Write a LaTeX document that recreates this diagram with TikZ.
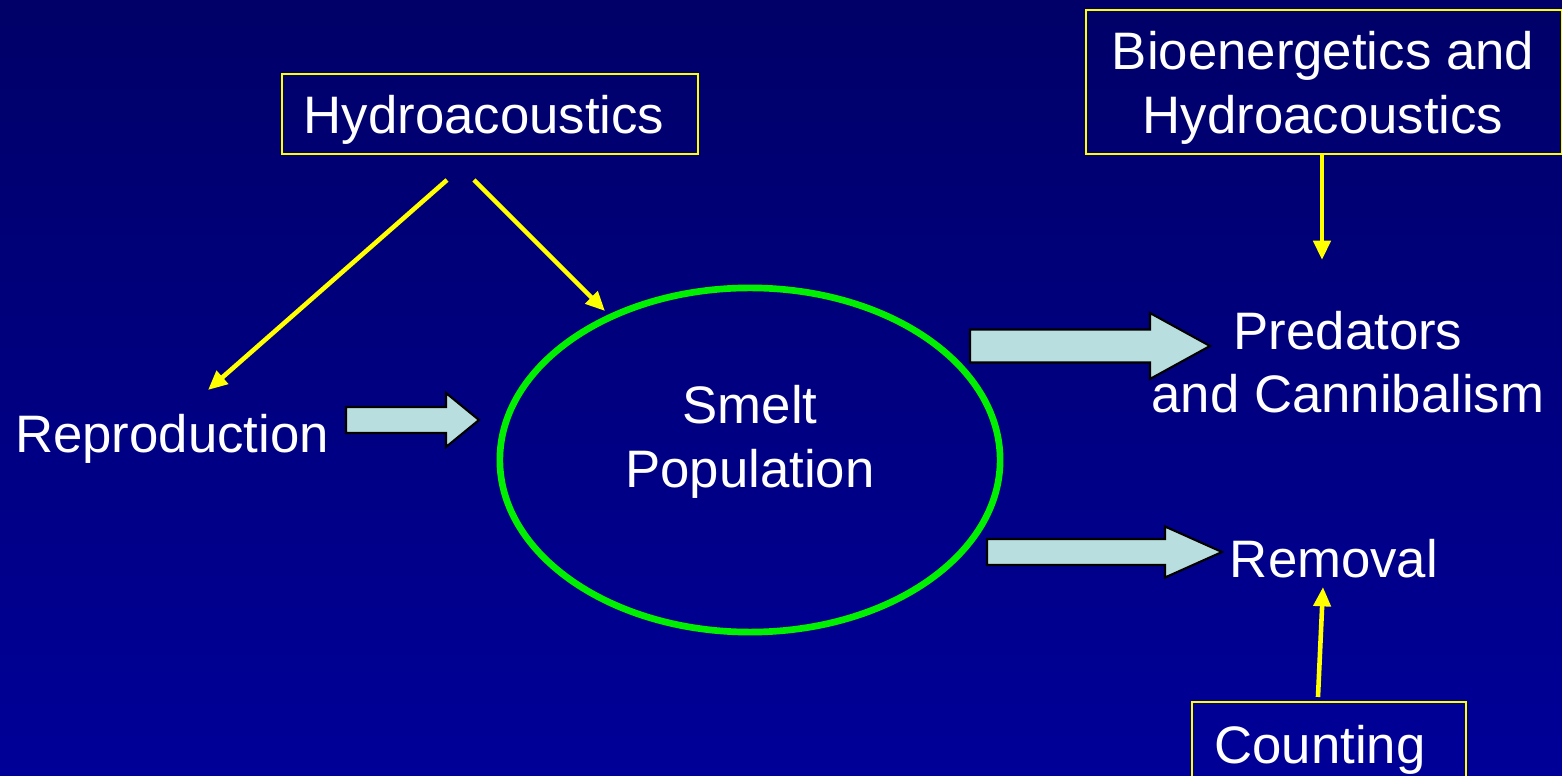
\documentclass[tikz,border=0pt]{standalone}
\usepackage{fontspec}
\setmainfont{Liberation Sans}
\usetikzlibrary{arrows.meta,calc,positioning,shapes.geometric}
\definecolor{Navy}{HTML}{000068}
\definecolor{DeepBlue}{HTML}{000098}
\definecolor{Lime}{HTML}{00F000}
\definecolor{Lemon}{HTML}{FFFF00}
\definecolor{Ice}{HTML}{B8DEE0}

\begin{document}
\begin{tikzpicture}[x=0.01cm,y=-0.01cm,
    label/.style={text=white,font=\fontsize{15}{18}\selectfont,align=center,inner sep=0pt},
    framebox/.style={draw=Lemon,line width=0.6pt,inner sep=0pt},
    link/.style={draw=Lemon,line width=1.3pt,-{Triangle[length=5.5pt,width=4.8pt]}},
    fatarrow/.style={fill=Ice,draw=black,line width=0.6pt,line join=miter}]
      \clip (0,0) rectangle (1562,776);
      \shade[top color=Navy,bottom color=DeepBlue] (0,0) rectangle (1562,776);

      \node[framebox,minimum width=4.16cm,minimum height=0.8cm] (hydro) at (490,114) {};
      \node[framebox,minimum width=4.76cm,minimum height=1.44cm] (bio) at (1324,82) {};
      \node[framebox,minimum width=2.74cm,minimum height=0.96cm] (count) at (1329,750) {};
      \node[label] (hydrotext) at (484,120) {Hydroacoustics};
      \node[label] (biotext) at (1323,88) {Bioenergetics and\\Hydroacoustics};
      \node[label] (counttext) at (1320,750) {Counting};

      \node[ellipse,draw=Lime,line width=1.9pt,minimum width=5cm,minimum height=3.44cm] (pond) at (750,460) {};
      \node[label] (smelt) at (750,442) {Smelt\\Population};
      \node[label] (repro) at (172,439) {Reproduction};
      \node[label] (pred) at (1348,362) {Predators\\and Cannibalism};
      \node[label] (removal) at (1334,559) {Removal};

      \foreach \x/\y/\len/\head/\shaft/\wing in {
        346/420/133/33/26/54,
        970/346/240/60/33/66,
        987/552/235/57/26/51}{
        \draw[fatarrow] (\x,\y-\shaft/2) -- (\x+\len-\head,\y-\shaft/2) -- (\x+\len-\head,\y-\wing/2)
          -- (\x+\len,\y) -- (\x+\len-\head,\y+\wing/2) -- (\x+\len-\head,\y+\shaft/2) -- (\x,\y+\shaft/2) -- cycle;
      }

      \coordinate (h1) at (447,180);
      \coordinate (r1) at (208,390);
      \coordinate (h2) at (474,180);
      \coordinate (p1) at (605,311);
      \coordinate (b1) at (1322,260);
      \coordinate (c1) at (1318,697);
      \coordinate (m1) at (1323,587);
      \draw[link] (h1) -- (r1);
      \draw[link] (h2) -- (p1);
      \draw[link] (b1 |- bio.south) -- (b1);
      \draw[link] (c1) -- (m1);
    \end{tikzpicture}
\end{document}
